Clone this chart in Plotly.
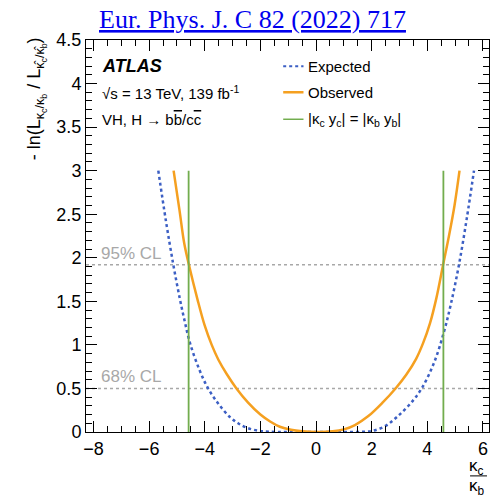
import plotly.graph_objects as go

# Expected profile likelihood scan (-ln L ratio) vs kappa_c / kappa_b
exp_x = [-5.67, -5.40, -5.13, -4.89, -4.72, -4.53, -4.20, -3.88, -3.50, -3.09, -2.80,
         -2.50, -2.08, -1.70, -1.00, 0.0, 1.00, 1.70,
         2.06, 2.50, 2.90, 3.35, 3.80, 4.25, 4.61, 4.85, 5.14, 5.42, 5.68]
exp_y = [3.00, 2.43, 1.92, 1.52, 1.27, 1.02, 0.72, 0.50, 0.32, 0.17, 0.10,
         0.05, 0.015, 0.003, 0.0, 0.0, 0.0, 0.003,
         0.015, 0.07, 0.17, 0.31, 0.50, 0.80, 1.16, 1.47, 1.92, 2.45, 3.00]

# Observed profile likelihood scan
obs_x = [-5.12, -4.91, -4.74, -4.57, -4.26, -4.00, -3.75, -3.51, -3.20, -2.86, -2.45,
         -2.00, -1.65, -1.30, -0.90, -0.50, 0.10, 0.60, 1.00, 1.40, 1.87, 2.40,
         2.86, 3.25, 3.60, 3.85, 4.10, 4.33, 4.57, 4.78, 4.98, 5.16]
obs_y = [3.00, 2.55, 2.17, 1.92, 1.52, 1.22, 1.00, 0.83, 0.66, 0.50, 0.34,
         0.20, 0.12, 0.06, 0.025, 0.008, 0.0, 0.008, 0.03, 0.08, 0.18, 0.34,
         0.50, 0.66, 0.84, 1.02, 1.25, 1.54, 1.92, 2.25, 2.60, 3.00]

# |kappa_c y_c| = |kappa_b y_b|  ->  kappa_c/kappa_b = +-m_b/m_c
ratio_limit = 4.58
ratio_top = 3.0

# Confidence-level reference lines
cl_levels = [0.5, 1.92]
cl_labels = ["68% CL", "95% CL"]

x_range = [-8.27, 6.22]
y_range = [0, 4.5]

BLUE = "#3c5fc4"
ORANGE = "#f5a020"
GREEN = "#72ad4e"
GREY = "#a8a8a8"
FONT = "Liberation Sans, Arial, sans-serif"

fig = go.Figure()

for lvl in cl_levels:
    fig.add_trace(go.Scatter(x=x_range, y=[lvl, lvl], mode="lines",
                             line=dict(color=GREY, width=1.5, dash="dot"),
                             hoverinfo="skip", showlegend=False))

fig.add_trace(go.Scatter(x=exp_x, y=exp_y, mode="lines", name="Expected",
                         line=dict(color=BLUE, width=2.5, dash="dot", shape="spline", smoothing=1.0),
                         showlegend=False))
fig.add_trace(go.Scatter(x=obs_x, y=obs_y, mode="lines", name="Observed",
                         line=dict(color=ORANGE, width=2.5, shape="spline", smoothing=1.0),
                         showlegend=False))
fig.add_trace(go.Scatter(x=[-ratio_limit, -ratio_limit, None, ratio_limit, ratio_limit],
                         y=[0, ratio_top, None, 0, ratio_top], mode="lines",
                         line=dict(color=GREEN, width=1.8), showlegend=False))

annotations = []

# CL labels above their lines
for lvl, lab in zip(cl_levels, cl_labels):
    annotations.append(dict(x=-7.8, y=lvl, xref="x", yref="y", text=lab, showarrow=False,
                            xanchor="left", yanchor="bottom", yshift=0,
                            font=dict(family=FONT, size=17, color=GREY)))

# Experiment labels
annotations += [
    dict(x=-7.75, y=4.2, xref="x", yref="y", text="<b><i>ATLAS</i></b>", showarrow=False,
         xanchor="left", yanchor="middle", font=dict(family=FONT, size=18, color="black")),
    dict(x=-7.75, y=3.9, xref="x", yref="y", text="√s = 13 TeV, 139 fb<sup>-1</sup>",
         showarrow=False, xanchor="left", yanchor="middle",
         font=dict(family=FONT, size=15, color="black")),
    dict(x=-7.75, y=3.59, xref="x", yref="y",
         text="VH, H → b<span style='text-decoration:overline'>b</span>/c<span style='text-decoration:overline'>c</span>",
         showarrow=False, xanchor="left", yanchor="middle",
         font=dict(family=FONT, size=15, color="black")),
]

# Legend entries
legend_rows = [
    (4.2, "Expected", dict(color=BLUE, width=2, dash="dot")),
    (3.9, "Observed", dict(color=ORANGE, width=2.5)),
    (3.59, "|κ<sub>c</sub> y<sub>c</sub>| = |κ<sub>b</sub> y<sub>b</sub>|", dict(color=GREEN, width=1.5)),
]
shapes = []
for yv, lab, ln in legend_rows:
    shapes.append(dict(type="line", xref="x", yref="y", x0=-1.18, x1=-0.45, y0=yv, y1=yv, line=ln))
    annotations.append(dict(x=-0.35, y=yv, xref="x", yref="y", text=lab, showarrow=False,
                            xanchor="left", yanchor="middle",
                            font=dict(family=FONT, size=15, color="black")))

# Axis titles
annotations.append(dict(x=-0.122, y=1.013, xref="paper", yref="paper", textangle=-90,
                        text="- ln(L<sub>κ<sub>c</sub>/κ<sub>b</sub></sub> / L<sub>κ̂<sub>c</sub>/κ̂<sub>b</sub></sub>)",
                        showarrow=False, xanchor="center", yanchor="top",
                        font=dict(family=FONT, size=18, color="black")))
annotations.append(dict(x=0.969, y=-0.09, xref="paper", yref="paper", text="κ<sub>c</sub>",
                        showarrow=False, xanchor="center", yanchor="middle",
                        font=dict(family=FONT, size=17, color="black")))
annotations.append(dict(x=0.969, y=-0.14, xref="paper", yref="paper", text="κ<sub>b</sub>",
                        showarrow=False, xanchor="center", yanchor="middle",
                        font=dict(family=FONT, size=17, color="black")))
shapes.append(dict(type="line", xref="paper", yref="paper", x0=0.953, x1=0.995,
                   y0=-0.112, y1=-0.112, line=dict(color="black", width=1)))

# Journal reference
annotations.append(dict(x=0.412, y=1.052, xref="paper", yref="paper",
                        text="<u>Eur. Phys. J. C 82 (2022) 717</u>", showarrow=False,
                        xanchor="center", yanchor="middle",
                        font=dict(family="Liberation Serif, DejaVu Serif, serif", size=26, color="#0000ee")))

axis_common = dict(showline=True, linecolor="black", linewidth=1, mirror="ticks",
                   ticks="inside", ticklen=11, tickwidth=1, tickcolor="black",
                   showgrid=False, zeroline=False,
                   tickfont=dict(family=FONT, size=18, color="black"))

fig.update_layout(
    width=498, height=497, autosize=False,
    margin=dict(l=86, r=9, t=40, b=65),
    paper_bgcolor="white", plot_bgcolor="white",
    xaxis=dict(range=x_range, tick0=0, dtick=2,
               minor=dict(dtick=0.5, ticks="inside", ticklen=6, tickcolor="black"),
               **axis_common),
    yaxis=dict(range=y_range, tick0=0, dtick=0.5,
               minor=dict(dtick=0.1, ticks="inside", ticklen=6, tickcolor="black"),
               **axis_common),
    annotations=annotations,
    shapes=shapes,
    showlegend=False,
)

fig.write_html("out.html")
